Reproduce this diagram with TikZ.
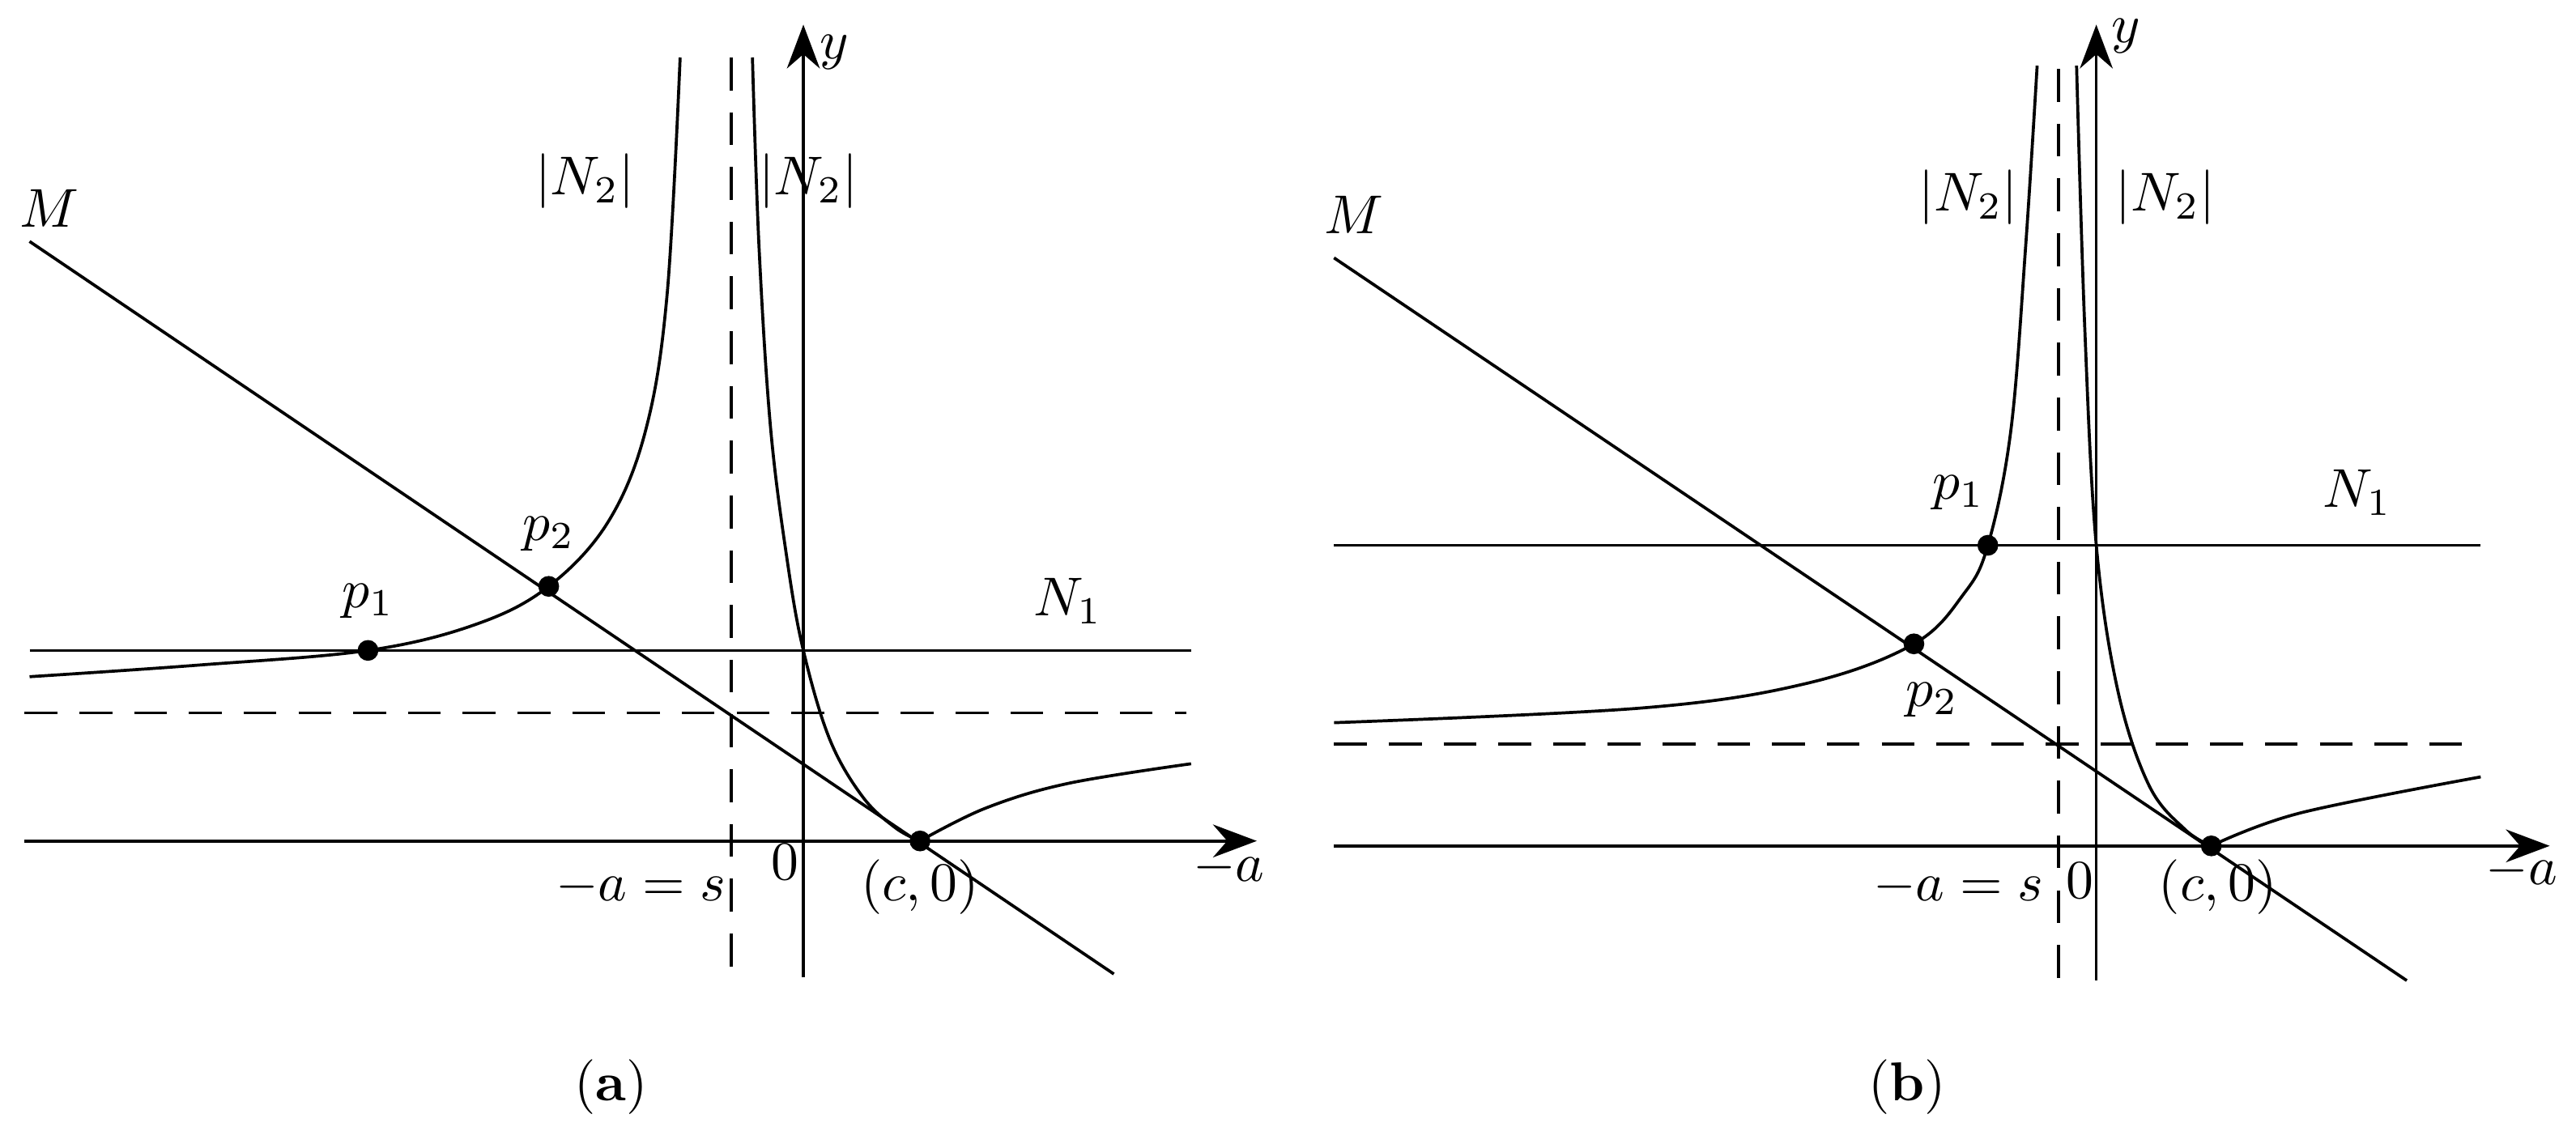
\documentclass[tikz,border=0pt]{standalone}
\usetikzlibrary{arrows.meta}
\begin{document}
\begin{tikzpicture}[x=0.3pt,y=-0.3pt,line width=0.55pt,
  axis/.style={-{Stealth[length=8pt,width=6pt]}},
  dashline/.style={dashed,dash pattern=on 6pt off 4pt},
  dot/.style={circle,fill,inner sep=0pt,minimum size=3.8pt},
  lab/.style={inner sep=1pt}]
\useasboundingbox (0,0) rectangle (1568,696.5);
% ---------- panel (a)
\coordinate (axs) at (15,512); \coordinate (axe) at (765,512);
\coordinate (ays) at (489,595); \coordinate (aye) at (489,15);
\draw[axis] (axs) -- (axe);
\draw[axis] (ays) -- (aye);
\draw[dashline] (445,35) -- (445,595);
\draw[dashline] (15,434) -- (722,434);
\draw (18,396) -- (725,396);
\draw (18,147) -- (678,593);
\draw plot[smooth,tension=0.6] coordinates {(18,412) (120,405) (224,396) (290,380) (334,357) (370,318) (393,262) (406,180) (414,35)};
\draw plot[smooth,tension=0.6] coordinates {(458,35) (462,150) (469,260) (479,340) (489,396) (505,450) (525,485) (545,504) (560,512)};
\draw plot[smooth,tension=0.6] coordinates {(560,512) (600,492) (650,477) (725,465)};
\node[dot] (p1a) at (224,396) {};
\node[dot] (p2a) at (334,357) {};
\node[dot] (ca) at (560,512) {};
\node[lab] at (224,366) {$p_1$};
\node[lab] at (334,325) {$p_2$};
\node[lab] at (650,366) {$N_1$};
\node[lab] at (30,127) {$M$};
\node[lab] at (356,110) {$|N_2|$};
\node[lab] at (492,110) {$|N_2|$};
\node[lab] at (508,32) {$y$};
\node[lab] at (748,528) {$-a$};
\node[lab] at (478,525) {$0$};
\node[lab] at (390,540) {$-a=s$};
\node[lab] at (560,540) {$(c,0)$};
\node[lab] at (372,662) {(\textbf{a})};
% ---------- panel (b)
\coordinate (bxs) at (812,515); \coordinate (bxe) at (1552,515);
\coordinate (bys) at (1276,597); \coordinate (bye) at (1276,15);
\draw[axis] (bxs) -- (bxe);
\draw[axis] (bys) -- (bye);
\draw[dashline] (1253,42) -- (1253,597);
\draw[dashline] (812,453) -- (1505,453);
\draw (812,332) -- (1510,332);
\draw (812,157) -- (1465,597);
\draw plot[smooth,tension=0.6] coordinates {(812,440) (1000,431) (1100,416) (1165,392) (1195,362) (1210,332) (1224,262) (1233,150) (1240,40)};
\draw plot[smooth,tension=0.6] coordinates {(1264,40) (1269,200) (1276,332) (1289,420) (1308,478) (1330,505) (1346,515)};
\draw plot[smooth,tension=0.6] coordinates {(1346,515) (1400,495) (1510,473)};
\node[dot] (p1b) at (1210,332) {};
\node[dot] (p2b) at (1165,392) {};
\node[dot] (cb) at (1346,515) {};
\node[lab] at (1192,300) {$p_1$};
\node[lab] at (1176,426) {$p_2$};
\node[lab] at (1435,300) {$N_1$};
\node[lab] at (824,131) {$M$};
\node[lab] at (1198,120) {$|N_2|$};
\node[lab] at (1318,120) {$|N_2|$};
\node[lab] at (1294,22) {$y$};
\node[lab] at (1535,530) {$-a$};
\node[lab] at (1266,536) {$0$};
\node[lab] at (1192,540) {$-a=s$};
\node[lab] at (1350,540) {$(c,0)$};
\node[lab] at (1161,662) {(\textbf{b})};
\end{tikzpicture}
\end{document}
